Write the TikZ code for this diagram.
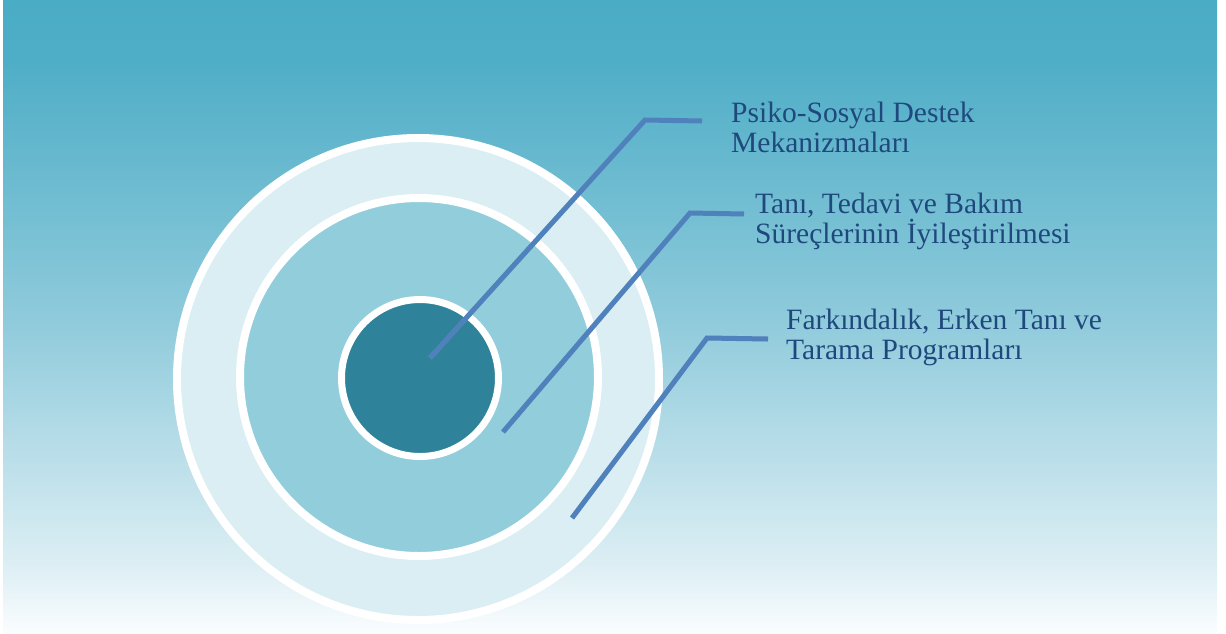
\documentclass[tikz,border=0pt]{standalone}
\usepackage{fontspec}
\setmainfont{Liberation Serif}
\usetikzlibrary{shadows}
\definecolor{bgtop}{HTML}{4BACC6}
\definecolor{bgmid1}{HTML}{4FAEC7}
\definecolor{bgmid2}{HTML}{8ECADB}
\definecolor{bgmid3}{HTML}{DCEEF4}
\definecolor{bgbot}{HTML}{FAFDFE}
\definecolor{ringout}{HTML}{DAEEF3}
\definecolor{ringmid}{HTML}{92CDDC}
\definecolor{core}{HTML}{2E8299}
\definecolor{leadc}{HTML}{4F81BD}
\definecolor{txtc}{HTML}{1F497D}
\pgfdeclareverticalshading{bgshade}{100bp}{color(0bp)=(bgbot); color(25bp)=(bgbot); color(30.5bp)=(bgmid3); color(50bp)=(bgmid2); color(70bp)=(bgmid1); color(75bp)=(bgtop); color(100bp)=(bgtop)}
\tikzset{
  ring/.style={circle, draw=white, inner sep=0pt, drop shadow={opacity=0.25, shadow xshift=1.5pt, shadow yshift=-2pt}},
  leader/.style={draw=leadc, line width=5pt, line join=miter},
  leadshadow/.style={draw=black!35, opacity=0.35, line width=5pt},
  label/.style={text=txtc, font=\fontsize{29.5}{30}\selectfont, align=left, inner sep=0pt, anchor=base west}
}
\begin{document}
\begin{tikzpicture}[x=1pt, y=-1pt]
\useasboundingbox (0,0) rectangle (1226,633);
\shade[shading=bgshade] (3,0) rectangle (1217,633);
% rings
\node[ring, fill=ringout, line width=8pt, minimum size=482pt] (outer) at (418,379) {};
\node[ring, fill=ringmid, line width=8pt, minimum size=358pt] (middle) at (419,377) {};
\node[ring, fill=core, line width=7pt, minimum size=157pt] (inner) at (420,378) {};
% leader coordinates
\coordinate (s1) at (430,358);
\coordinate (k1) at (645,120);
\coordinate (e1) at (702,121);
\coordinate (s2) at (503,432);
\coordinate (k2) at (690,213);
\coordinate (e2) at (744,214);
\coordinate (s3) at (572,518);
\coordinate (k3) at (707,338);
\coordinate (e3) at (768,339);
% shadows of leaders
\begin{scope}[shift={(1.5,2)}]
\draw[leadshadow] (s1) -- (k1) -- (e1);
\draw[leadshadow] (s2) -- (k2) -- (e2);
\draw[leadshadow] (s3) -- (k3) -- (e3);
\end{scope}
\draw[leader] (s1) -- (k1) -- (e1);
\draw[leader] (s2) -- (k2) -- (e2);
\draw[leader] (s3) -- (k3) -- (e3);
% labels (anchor is the baseline of the last line)
\node[label] (t1) at (731,152) {Psiko-Sosyal Destek\\Mekanizmaları};
\node[label] (t2) at (755,243) {Tanı, Tedavi ve Bakım\\Süreçlerinin İyileştirilmesi};
\node[label] (t3) at (786,359) {Farkındalık, Erken Tanı ve\\Tarama Programları};
\end{tikzpicture}
\end{document}
